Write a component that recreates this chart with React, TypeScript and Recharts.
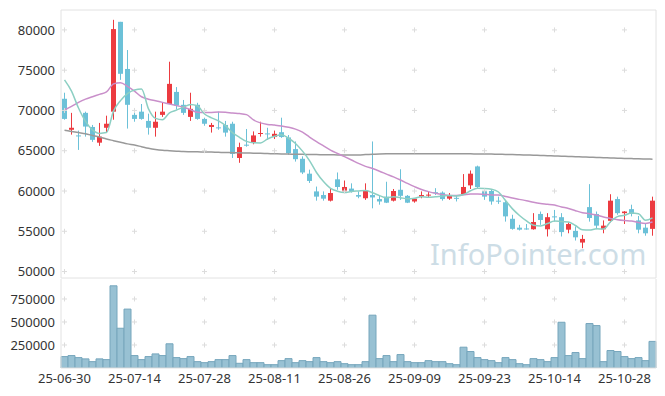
import React from 'react';
import { ComposedChart, BarChart, Bar, Line, XAxis, YAxis, ReferenceDot } from 'recharts';

const dates = [
  '25-06-30', '25-07-01', '25-07-02', '25-07-03', '25-07-04', '25-07-07', '25-07-08', '25-07-09', '25-07-10', '25-07-11',
  '25-07-14', '25-07-15', '25-07-16', '25-07-17', '25-07-18', '25-07-21', '25-07-22', '25-07-23', '25-07-24', '25-07-25',
  '25-07-28', '25-07-29', '25-07-30', '25-07-31', '25-08-01', '25-08-04', '25-08-05', '25-08-06', '25-08-07', '25-08-08',
  '25-08-11', '25-08-12', '25-08-13', '25-08-14', '25-08-18', '25-08-19', '25-08-20', '25-08-21', '25-08-22', '25-08-25',
  '25-08-26', '25-08-27', '25-08-28', '25-08-29', '25-09-01', '25-09-02', '25-09-03', '25-09-04', '25-09-05', '25-09-08',
  '25-09-09', '25-09-10', '25-09-11', '25-09-12', '25-09-15', '25-09-16', '25-09-17', '25-09-18', '25-09-19', '25-09-22',
  '25-09-23', '25-09-24', '25-09-25', '25-09-26', '25-09-29', '25-09-30', '25-10-01', '25-10-02', '25-10-10', '25-10-13',
  '25-10-14', '25-10-15', '25-10-16', '25-10-17', '25-10-20', '25-10-21', '25-10-22', '25-10-23', '25-10-24', '25-10-27',
  '25-10-28', '25-10-29', '25-10-30', '25-10-31', '25-11-03',
];

const opens = [
  71450, 67600, 66900, 69700, 67950, 66000, 67850, 69850, 81000, 75150,
  69450, 69850, 68700, 67850, 69450, 70800, 72300, 70700, 69200, 70700,
  68950, 67950, 67900, 68200, 68350, 64100, 65750, 66000, 67150, 67150,
  66700, 67300, 66650, 65200, 64000, 62150, 59950, 59500, 58800, 61450,
  59950, 60300, 59500, 59100, 59500, 59000, 59300, 58800, 60150, 59400,
  58700, 59300, 59500, 59850, 59800, 59050, 59150, 59600, 60700, 63050,
  60000, 60000, 58800, 58600, 56550, 55450, 55350, 55250, 57150, 55250,
  56850, 56750, 55200, 55050, 53600, 58000, 57150, 55250, 56300, 59000,
  57250, 57750, 56350, 55450, 55300,
];

const highs = [
  72200, 69700, 67500, 69850, 68200, 68450, 69350, 81250, 81000, 77500,
  70200, 70800, 69600, 69850, 70950, 76050, 72900, 71300, 72200, 70950,
  69100, 68450, 69850, 68700, 68600, 66000, 67700, 67400, 68600, 67850,
  67500, 69100, 66950, 66150, 64300, 62650, 60550, 59950, 60350, 62300,
  61300, 60950, 59950, 60950, 66150, 59500, 61150, 60250, 62700, 59500,
  59100, 59950, 60000, 60350, 59950, 59750, 59500, 62100, 62550, 63150,
  60350, 60250, 59300, 58900, 57050, 55800, 55900, 57250, 57450, 57250,
  57650, 57250, 56100, 55600, 54550, 60850, 57450, 56350, 59600, 59300,
  57500, 58300, 56900, 55900, 59300,
];

const lows = [
  68850, 67000, 65100, 66750, 66100, 65600, 67250, 68850, 73800, 67750,
  68600, 68850, 67000, 66750, 69200, 70800, 70100, 69450, 68700, 68850,
  68100, 67250, 67600, 66750, 64100, 63500, 65500, 65800, 66750, 66350,
  66450, 66600, 64500, 63650, 62100, 61000, 58800, 58800, 58700, 60150,
  59750, 59800, 59100, 58900, 57850, 58300, 58500, 58700, 58900, 58500,
  58550, 59100, 59250, 59500, 58800, 58900, 58700, 59500, 60250, 60350,
  58900, 58300, 58400, 56200, 55200, 55100, 55200, 55200, 55800, 54350,
  56200, 54350, 54750, 53850, 52900, 56200, 55250, 54750, 56100, 57050,
  55900, 56850, 54750, 54450, 54450,
];

const closes = [
  68950, 67850, 66800, 68000, 66350, 66750, 68350, 80100, 74550, 70700,
  68950, 68950, 67850, 68600, 69850, 73300, 70600, 69700, 70200, 68950,
  68350, 68200, 67800, 67250, 64600, 65450, 65700, 66900, 67200, 67050,
  67100, 66700, 64700, 63950, 62300, 61250, 59300, 59050, 59750, 60500,
  60500, 59950, 59300, 60000, 59200, 58700, 58550, 60000, 59400, 58550,
  59050, 59500, 59550, 59800, 59000, 59400, 59100, 60500, 62150, 60500,
  59300, 58700, 58750, 56850, 55300, 55200, 55300, 56150, 56400, 56750,
  56800, 54900, 55900, 54250, 54050, 56650, 55700, 55700, 58800, 57250,
  57450, 57150, 55200, 54750, 58800,
];

const volumes = [
  124000, 135000, 113000, 99000, 69000, 99000, 91000, 893000, 432000, 640000,
  135000, 91000, 124000, 153000, 135000, 263000, 113000, 102000, 124000, 69000,
  58000, 69000, 91000, 91000, 135000, 51000, 91000, 58000, 58000, 36000,
  36000, 80000, 102000, 58000, 80000, 69000, 113000, 69000, 58000, 69000,
  47000, 36000, 36000, 69000, 574000, 102000, 135000, 69000, 146000, 69000,
  58000, 58000, 80000, 69000, 69000, 47000, 36000, 226000, 179000, 113000,
  91000, 80000, 58000, 113000, 91000, 47000, 36000, 102000, 91000, 69000,
  113000, 497000, 135000, 168000, 102000, 483000, 461000, 69000, 190000, 179000,
  124000, 102000, 113000, 80000, 289000,
];

// moving averages as drawn (short / medium / long)
const maShort = [
  73800, 72400, 70300, 68650, 67590, 67150, 67250, 69910, 71220, 72090,
  72530, 72650, 70200, 69010, 68840, 69710, 70040, 70410, 70730, 70550,
  69560, 69080, 68700, 68110, 67240, 66660, 66160, 65980, 65970, 66460,
  66790, 66990, 66550, 65900, 64950, 63780, 62300, 61170, 60330, 59970,
  59820, 59950, 60000, 60050, 59790, 59430, 59150, 59290, 59170, 59040,
  59110, 59300, 59210, 59290, 59380, 59450, 59370, 59560, 60030, 60330,
  60310, 60230, 59880, 58820, 57780, 56960, 56280, 55760, 55670, 55960,
  56280, 56200, 56150, 55720, 55180, 55150, 55310, 55270, 56180, 56820,
  56980, 57270, 57170, 56360, 56670,
];

const maMid = [
  70050, 70500, 71000, 71400, 71700, 72000, 72300, 73300, 73450, 73000,
  72400, 71700, 71400, 71200, 71000, 70800, 70600, 70400, 70100, 69770,
  69740, 69760, 69800, 69770, 69680, 69620, 69480, 68820, 68460, 68270,
  68180, 68070, 67910, 67680, 67300, 66700, 66130, 65600, 65080, 64660,
  64260, 63850, 63430, 63060, 62790, 62460, 62100, 61750, 61360, 60940,
  60540, 60180, 59920, 59710, 59550, 59450, 59440, 59520, 59640, 59640,
  59580, 59510, 59490, 59330, 59130, 58960, 58800, 58600, 58450, 58360,
  58250, 58020, 57840, 57560, 57310, 57180, 57010, 56770, 56600, 56440,
  56340, 56270, 56090, 55980, 56160,
];

const maLong = [
  67550, 67400, 67250, 67100, 66900, 66700, 66450, 66250, 66050, 65850,
  65700, 65500, 65300, 65150, 65050, 65000, 64950, 64900, 64880, 64860,
  64850, 64830, 64800, 64780, 64760, 64740, 64720, 64700, 64680, 64650,
  64620, 64600, 64580, 64560, 64550, 64530, 64520, 64500, 64490, 64480,
  64470, 64460, 64480, 64520, 64560, 64600, 64620, 64630, 64640, 64640,
  64640, 64640, 64640, 64630, 64630, 64620, 64620, 64610, 64610, 64600,
  64600, 64580, 64560, 64540, 64520, 64500, 64470, 64440, 64410, 64380,
  64350, 64320, 64290, 64260, 64230, 64200, 64170, 64140, 64110, 64080,
  64050, 64020, 64000, 63980, 63950,
];

const priceTicks = [50000, 55000, 60000, 65000, 70000, 75000, 80000];
const volumeTicks = [250000, 500000, 750000];

const PRICE_MIN = 49200;
const PRICE_MAX = 82470;
const VOLUME_MAX = 967000;

const UP = '#ec3b40';
const DOWN = '#6cc1d8';
const BORDER = '#e2e2e2';
const CROSS = '#dcdcdc';
const FONT = "'Noto Sans', sans-serif";
const TICK = { fontSize: 13, fill: '#333', fontFamily: FONT };

const rows = dates.map((date, i) => ({
  date,
  open: opens[i],
  high: highs[i],
  low: lows[i],
  close: closes[i],
  volume: volumes[i],
  maShort: maShort[i],
  maMid: maMid[i],
  maLong: maLong[i],
}));

const labelDates = dates.filter((_, i) => i % 10 === 0);

function Candle(props: any) {
  const { x, y, width, height, payload } = props;
  const { open, close, high, low } = payload;
  const color = close >= open ? UP : DOWN;
  const top = Math.min(y, y + height);
  const h = Math.abs(height);
  const ratio = high === low ? 0 : h / (high - low);
  const bodyTop = top + (high - Math.max(open, close)) * ratio;
  const bodyH = Math.max(1, Math.abs(open - close) * ratio);
  const cx = x + width / 2;
  return (
    <g>
      <line x1={cx} x2={cx} y1={top} y2={top + h} stroke={color} strokeWidth={1} />
      <rect x={x} y={bodyTop} width={width} height={bodyH} fill={color} />
    </g>
  );
}

function Cross(props: any) {
  const { cx, cy } = props;
  return (
    <path
      d={`M${cx - 2.5},${cy}h5M${cx},${cy - 2.5}v5`}
      stroke={CROSS}
      strokeWidth={1}
      fill="none"
    />
  );
}

function crosses(values: number[]) {
  return labelDates.flatMap((d) =>
    values.map((v) => (
      <ReferenceDot key={`${d}-${v}`} x={d} y={v} r={0} shape={(p: any) => <Cross {...p} />} />
    )),
  );
}

export default function App() {
  return (
    <div style={{ position: 'absolute', left: 0, top: 0, width: 665, height: 396, background: '#fff' }}>
      <svg
        width={665}
        height={396}
        style={{ position: 'absolute', left: 0, top: 0, pointerEvents: 'none' }}
      >
        <text x={430} y={265} fontSize={29} fill="#cddde6" fontFamily={FONT}>
          InfoPointer.com
        </text>
      </svg>

      <ComposedChart
        width={665}
        height={279}
        data={rows}
        margin={{ top: 9, right: 8, bottom: 0, left: 0 }}
      >
        <XAxis dataKey="date" height={1} tick={false} tickLine={false} axisLine={{ stroke: BORDER }} />
        <XAxis
          xAxisId="top"
          orientation="top"
          dataKey="date"
          height={1}
          tick={false}
          tickLine={false}
          axisLine={{ stroke: BORDER }}
        />
        <YAxis
          type="number"
          domain={[PRICE_MIN, PRICE_MAX]}
          ticks={priceTicks}
          interval={0}
          allowDataOverflow
          width={61}
          tickLine={false}
          tickSize={0}
          tickMargin={6}
          axisLine={{ stroke: BORDER }}
          tick={TICK}
        />
        <YAxis
          yAxisId="edge"
          orientation="right"
          domain={[0, 1]}
          width={1}
          tick={false}
          tickLine={false}
          axisLine={{ stroke: BORDER }}
        />
        {crosses(priceTicks)}
        <Line type="monotone" dataKey="maLong" stroke="#999999" strokeWidth={1.5} dot={false} activeDot={false} isAnimationActive={false} />
        <Line type="monotone" dataKey="maMid" stroke="#c98fca" strokeWidth={1.5} dot={false} activeDot={false} isAnimationActive={false} />
        <Line type="monotone" dataKey="maShort" stroke="#8ccfc3" strokeWidth={1.5} dot={false} activeDot={false} isAnimationActive={false} />
        <Bar
          dataKey={(r: any) => [r.low, r.high]}
          barSize={5}
          shape={(p: any) => <Candle {...p} />}
          isAnimationActive={false}
        />
      </ComposedChart>

      <BarChart
        width={665}
        height={117}
        data={rows}
        margin={{ top: 0, right: 8, bottom: 0, left: 0 }}
        barCategoryGap={0}
      >
        <XAxis
          dataKey="date"
          interval={9}
          height={28}
          tickLine={false}
          tickSize={0}
          tickMargin={6}
          axisLine={{ stroke: BORDER }}
          tick={TICK}
        />
        <YAxis
          type="number"
          domain={[0, VOLUME_MAX]}
          ticks={volumeTicks}
          interval={0}
          allowDataOverflow
          width={61}
          tickLine={false}
          tickSize={0}
          tickMargin={6}
          axisLine={{ stroke: BORDER }}
          tick={TICK}
        />
        <YAxis
          yAxisId="edge"
          orientation="right"
          domain={[0, 1]}
          width={1}
          tick={false}
          tickLine={false}
          axisLine={{ stroke: BORDER }}
        />
        {crosses(volumeTicks)}
        <Bar dataKey="volume" fill="#98c1d3" stroke="#76a6bc" strokeWidth={1} isAnimationActive={false} />
      </BarChart>
    </div>
  );
}
